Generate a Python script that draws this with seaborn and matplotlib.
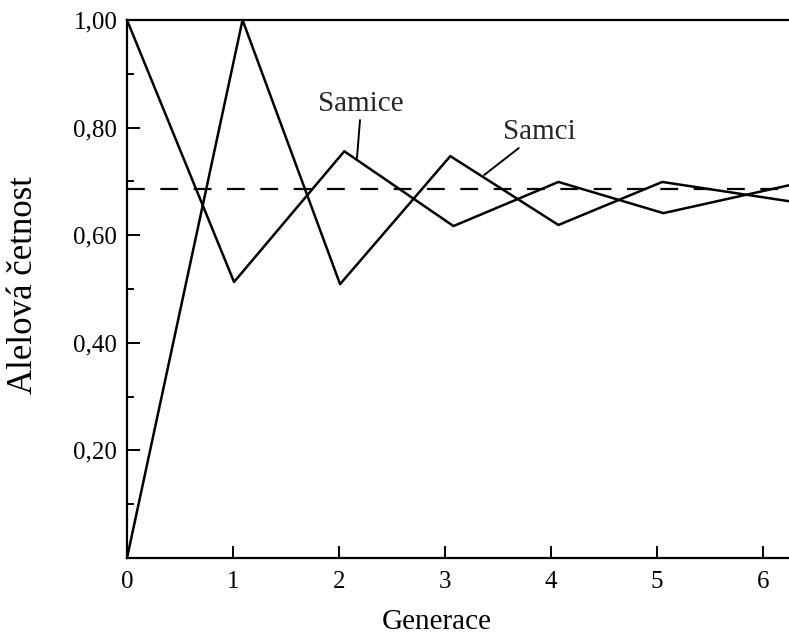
import numpy as np
import pandas as pd
import seaborn as sns
import matplotlib.pyplot as plt

# Data (allele frequency by generation)
generace_samice = [0.0, 1.01, 2.05, 3.08, 4.07, 5.06, 6.25]
cetnost_samice = [1.00, 0.513, 0.756, 0.617, 0.699, 0.641, 0.693]

generace_samci = [0.0, 1.09, 2.01, 3.05, 4.07, 5.05, 6.25]
cetnost_samci = [0.00, 1.00, 0.509, 0.747, 0.619, 0.699, 0.663]

rovnovaha = 0.685  # dashed equilibrium line

x_ticks = [0, 1, 2, 3, 4, 5, 6]
y_ticks = [0.2, 0.4, 0.6, 0.8, 1.0]
y_tick_labels = ["0,20", "0,40", "0,60", "0,80", "1,00"]
y_minor = [0.1, 0.3, 0.5, 0.7, 0.9]

df = pd.concat([
    pd.DataFrame({"generace": generace_samice, "cetnost": cetnost_samice, "pohlavi": "Samice"}),
    pd.DataFrame({"generace": generace_samci, "cetnost": cetnost_samci, "pohlavi": "Samci"}),
], ignore_index=True)

sns.set_style("white")
plt.rcParams["font.family"] = ["Liberation Serif", "DejaVu Serif"]

fig = plt.figure(figsize=(7.89, 6.41), dpi=100)
ax = fig.add_axes([127 / 789, 1 - 558 / 641, 662 / 789, 538 / 641])

sns.lineplot(data=df, x="generace", y="cetnost", hue="pohlavi", units="pohlavi",
             estimator=None, sort=False, palette=["black", "black"], linewidth=1.8,
             legend=False, ax=ax, clip_on=False)
ax.axhline(rovnovaha, color="black", linewidth=1.6, linestyle=(0, (8, 7)))

ax.set_xlim(0, 662 / 106)
ax.set_ylim(0, 1.0)

ax.set_xticks(x_ticks)
ax.set_xticklabels([str(t) for t in x_ticks], fontsize=18)
ax.set_yticks(y_ticks)
ax.set_yticklabels(y_tick_labels, fontsize=18)
ax.set_yticks(y_minor, minor=True)
ax.tick_params(bottom=True, left=True, top=False, right=False)
ax.tick_params(axis="y", which="minor", left=True)
ax.tick_params(axis="both", which="major", direction="in", length=9, width=1.4,
               color="black", labelcolor="black")
ax.tick_params(axis="y", which="major", pad=7)
ax.tick_params(axis="x", which="major", pad=9)
ax.tick_params(axis="y", which="minor", direction="in", length=5, width=1.4, color="black")

for side in ["left", "bottom", "top"]:
    ax.spines[side].set_color("black")
    ax.spines[side].set_linewidth(1.6)
ax.spines["right"].set_visible(False)

ax.set_xlabel("Generace", fontsize=21, color="black")
ax.set_ylabel("Alelová četnost", fontsize=25, color="black")
ax.xaxis.set_label_coords(0.468, -0.095)
ax.yaxis.set_label_coords(-0.131, 0.508)

# Labels with leader lines
ax.annotate("Samice", xy=(2.17, 0.744), xytext=(2.21, 0.82), fontsize=21,
            ha="center", va="bottom",
            arrowprops=dict(arrowstyle="-", color="black", linewidth=1.4,
                            shrinkA=0, shrinkB=0))
ax.annotate("Samci", xy=(3.37, 0.712), xytext=(3.55, 0.768), fontsize=21,
            ha="left", va="bottom",
            arrowprops=dict(arrowstyle="-", color="black", linewidth=1.4,
                            shrinkA=0, shrinkB=0))

fig.savefig("out.png", dpi=100, facecolor="white")
